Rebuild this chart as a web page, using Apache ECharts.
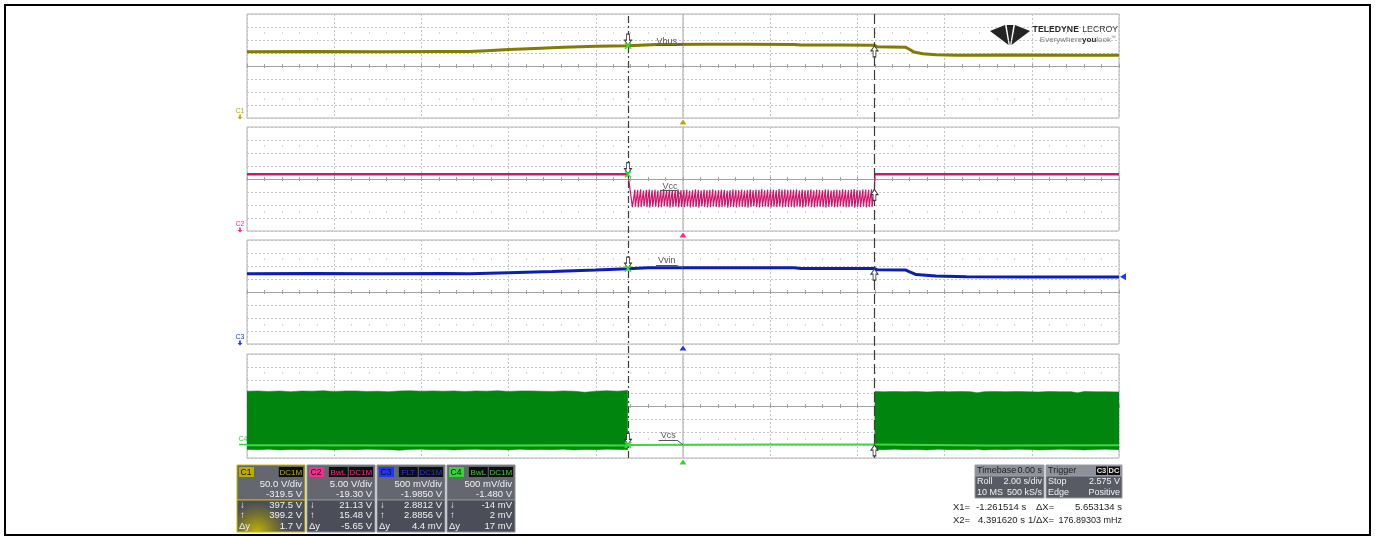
<!DOCTYPE html>
<html>
<head>
<meta charset="utf-8">
<title>Vbus / Vcc / Vvin / Vcs</title>
<script src="https://cdn.jsdelivr.net/npm/echarts@6/dist/echarts.min.js"></script>
<style>
  html, body { margin: 0; padding: 0; background: #fff; }
  #chart { position: absolute; left: 0; top: 0; width: 1375px; height: 536px; }
</style>
</head>
<body>
<div id="chart"></div>
<script>
// ---- timebase and cursors (seconds) ----
const timeMin = -10, timeMax = 10, timePerDiv = 2;
const cursorX1 = -1.261514, cursorX2 = 4.391620;

// ---- channel setup ----
const channelNames = ['C1', 'C2', 'C3', 'C4'];
const traceNames = ['Vbus', 'Vcc', 'Vvin', 'Vcs'];
const voltsPerDiv = [50, 5, 0.5, 0.5];
const channelOffsets = [-319.5, -19.30, -1.985, -1.480];
const cursorX1Values = [397.5, 21.13, 2.8812, -0.014];
const cursorX2Values = [399.2, 15.48, 2.8856, 0.002];
const triggerLevel = 2.575;

// ---- channel descriptor texts ----
const scaleTexts = ['50.0 V/div', '5.00 V/div', '500 mV/div', '500 mV/div'];
const offsetTexts = ['-319.5 V', '-19.30 V', '-1.9850 V', '-1.480 V'];
const x1Texts = ['397.5 V', '21.13 V', '2.8812 V', '-14 mV'];
const x2Texts = ['399.2 V', '15.48 V', '2.8856 V', '2 mV'];
const deltaTexts = ['1.7 V', '-5.65 V', '4.4 mV', '17 mV'];
const couplingBadges = [['DC1M'], ['BwL', 'DC1M'], ['FLT', 'DC1M'], ['BwL', 'DC1M']];

// ---- C1: Vbus (V) ----
const vbusTime  = [-10, -8.5, -7, -5.5, -4.9, -4.5, -4.0, -3.4, -2.75, -2.0, -1.261514, -0.6, 0.5, 1.5, 2.55, 2.7, 3.6, 4.39162, 4.45, 5.1, 5.2, 5.3, 5.5, 5.8, 6.3, 7.5, 9, 10];
const vbusVolts = [374.5, 375.2, 374.6, 375.0, 374.8, 378.5, 382.5, 387, 391.5, 395, 397.5, 402.5, 403, 402.8, 402.5, 400.5, 400, 399.2, 393.5, 392, 383, 373, 367, 363, 361, 361.5, 360.8, 361];

// ---- C2: Vcc (V) ----
const vccLeftTime = [-10, -7, -4, -1.261514];
const vccLeftVolts = [21.1, 21.15, 21.1, 21.13];
const vccRightTime = [4.40, 7, 10];
const vccRightVolts = [21.1, 21.12, 21.1];
// hiccup ripple between the cursors: slow charge from each valley to the next peak, fast collapse
const vccRippleStart = -1.16;
const vccRippleLow = [8.5, 8.7, 8.4, 8.6, 8.8, 8.5, 8.3, 8.6, 8.7, 8.4,
                      8.5, 8.8, 8.6, 8.3, 8.5, 8.7, 8.4, 8.6, 8.5, 8.8,
                      8.4, 8.6, 8.5, 8.3, 8.7, 8.6, 8.4, 8.5, 8.8, 8.6,
                      8.4, 8.5, 8.7, 8.3, 8.6, 8.5, 8.4, 8.7, 8.6, 8.5,
                      8.3, 8.6, 8.8, 8.5, 8.4, 8.6, 8.7, 8.5, 8.4, 8.6,
                      8.5, 8.7, 8.4, 8.6, 8.5, 8.6, 8.4, 8.7, 8.5, 8.3,
                      8.6, 8.8, 8.5, 8.4, 8.7, 8.6, 8.5, 8.3, 8.6, 8.7,
                      8.4, 8.5, 8.8, 8.6, 8.4, 8.5, 8.7, 8.3, 8.6, 8.5,
                      8.7, 8.4, 8.6, 8.6];
const vccRippleHigh = [15.2, 15.0, 15.3, 14.9, 15.1, 15.3, 15.0, 15.2, 14.9, 15.1,
                       15.4, 15.0, 15.2, 15.1, 14.9, 15.3, 15.0, 15.1, 15.2, 14.8,
                       15.0, 15.3, 15.1, 14.9, 15.2, 15.0, 15.1, 15.3, 14.9, 15.0,
                       15.2, 15.1, 14.8, 15.0, 15.3, 15.1, 15.0, 15.2, 14.9, 15.1,
                       15.3, 15.0, 15.2, 15.1, 15.4, 15.0, 15.2, 15.3, 15.1, 15.0,
                       15.4, 15.2, 15.3, 15.1, 15.2, 15.1, 15.3, 14.9, 15.2, 15.0,
                       15.1, 15.3, 14.9, 15.2, 15.1, 15.0, 15.3, 15.2, 14.9, 15.1,
                       15.2, 15.0, 15.3, 15.1, 15.0, 15.2, 15.4, 15.1, 15.0, 15.3,
                       15.2, 15.1, 15.3, 15.48];

// ---- C3: Vvin (V) ----
const vvinTime  = [-10, -8.5, -7, -5.5, -4.9, -4.0, -3.0, -2.0, -1.261514, -0.8, 0.5, 1.8, 2.55, 2.7, 3.6, 4.39162, 4.45, 5.1, 5.2, 5.35, 5.8, 6.5, 8, 10];
const vvinVolts = [2.69, 2.695, 2.69, 2.695, 2.69, 2.73, 2.775, 2.83, 2.8812, 2.915, 2.92, 2.918, 2.915, 2.89, 2.888, 2.8856, 2.845, 2.835, 2.76, 2.655, 2.6, 2.575, 2.565, 2.56];

// ---- C4: Vcs (V) ----
const vcsTime  = [-10, -6, -2, -1.27, -1.261514, -1.2, 0, 2, 4.39162, 4.40, 7, 10];
const vcsVolts = [-0.03, -0.04, -0.03, -0.04, -0.014, -0.02, -0.01, 0.0, 0.002, -0.03, -0.04, -0.03];
// switching envelope while the converter runs
const vcsLeftTime = [-10, -9.75, -9.5, -9.25, -9, -8.75, -8.5, -8.25, -8, -7.75, -7.5, -7.25, -7, -6.75, -6.5, -6.25, -6, -5.75,
                     -5.5, -5.25, -5, -4.75, -4.5, -4.25, -4, -3.75, -3.5, -3.25, -3, -2.75, -2.5, -2.25, -2, -1.75, -1.5, -1.27];
const vcsLeftHigh = [2.05, 2.06, 2.04, 2.06, 2.03, 2.06, 2.05, 2.07, 2.04, 2.06, 2.06, 2.04, 2.05, 2.03, 2.06, 2.07, 2.05, 2.06,
                     2.05, 2.06, 2.04, 2.06, 2.05, 2.07, 2.04, 2.06, 2.06, 2.05, 2.04, 2.06, 2.05, 2.01, 2.05, 2.07, 2.05, 2.08];
const vcsLeftLow = [-0.19, -0.2, -0.18, -0.21, -0.19, -0.2, -0.18, -0.19, -0.21, -0.19, -0.2, -0.18, -0.19, -0.2, -0.22, -0.19, -0.18, -0.2,
                    -0.19, -0.21, -0.19, -0.18, -0.2, -0.19, -0.21, -0.18, -0.2, -0.19, -0.2, -0.18, -0.21, -0.19, -0.2, -0.18, -0.19, -0.2];
const vcsRightTime = [4.40, 4.6, 4.85, 5.1, 5.35, 5.6, 5.85, 6.1, 6.35, 6.6, 6.75, 6.9, 7.15, 7.4, 7.65, 7.9, 8.15, 8.4, 8.65, 8.9, 9.05, 9.2, 9.45, 9.7, 10];
const vcsRightHigh = [2.04, 2.03, 2.04, 2.03, 2.04, 2.02, 2.04, 2.03, 2.04, 2.03, 1.99, 2.03, 2.04, 2.03, 2.04, 2.03, 2.02, 2.04, 2.03, 2.03, 1.99, 2.04, 2.03, 2.03, 2.02];
const vcsRightLow = [-0.19, -0.2, -0.18, -0.2, -0.19, -0.21, -0.18, -0.2, -0.19, -0.2, -0.18, -0.21, -0.19, -0.2, -0.18, -0.19, -0.21, -0.2, -0.18, -0.19, -0.2, -0.21, -0.19, -0.18, -0.2];

// ---------------------------------------------------------------------------
const FONT = '"Liberation Sans", Arial, sans-serif';
const W = 1375, H = 536;
const LAYOUT = { left: 247, right: 256, tops: [14, 127, 240, 354], height: 104 };
const traceColors = ['#817c00', '#d2156c', '#0c1fb2', '#00860f'];
const markerColors = ['#b9ad00', '#ff2a8c', '#2236ee', '#35d335'];
const vcsLineColor = '#3ed83e';

const zip = (a, b) => a.map((t, k) => [t, b[k]]);

// Vcc ripple: each cycle charges from a valley to a peak, then collapses to the next valley
const vccRipple = [[vccLeftTime[vccLeftTime.length - 1], vccLeftVolts[vccLeftVolts.length - 1]]];
const collapse = 0.01;
const ripplePeriod = (cursorX2 + collapse - vccRippleStart) / vccRippleLow.length;
vccRippleLow.forEach((lo, k) => {
  vccRipple.push([vccRippleStart + k * ripplePeriod, lo]);
  vccRipple.push([vccRippleStart + (k + 1) * ripplePeriod - collapse, vccRippleHigh[k]]);
});
vccRipple.push([vccRightTime[0], vccRightVolts[0]]);

const ARROW = 'path://M3,0 L7,0 L7,7 L10,7 L5,13 L0,7 L3,7 Z';
const CROSS = 'path://M0,0 L10,10 M10,0 L0,10';
const TAG_ARROW = 'path://M2,0 L4,0 L4,3 L6,3 L3,6 L0,3 L2,3 Z';

// grids: four panels plus one transparent overlay for the cursors
const grids = LAYOUT.tops.map(top => ({
  left: LAYOUT.left, right: LAYOUT.right, top, height: LAYOUT.height,
  show: true, backgroundColor: '#ffffff', borderColor: '#b2b2b2', borderWidth: 1,
  containLabel: false
}));
grids.push({ left: LAYOUT.left, right: LAYOUT.right, top: LAYOUT.tops[0],
  bottom: H - (LAYOUT.tops[3] + LAYOUT.height), show: false, containLabel: false });

const xAxes = [], yAxes = [];
const gridGray = '#c4c4c4', axisGray = '#a2a2a2';
for (let i = 0; i < 4; i++) {
  const base = { gridIndex: i, type: 'value', min: timeMin, max: timeMax, interval: timePerDiv,
    axisLabel: { show: false } };
  // centre horizontal line with cross ticks
  xAxes.push(Object.assign({}, base, { position: 'bottom',
    axisLine: { show: true, onZero: true, onZeroAxisIndex: 2 * i, lineStyle: { color: axisGray, width: 1 } },
    axisTick: { show: true, length: 2, lineStyle: { color: axisGray } },
    minorTick: { show: true, splitNumber: 5, length: 2, lineStyle: { color: axisGray } },
    splitLine: { show: true, lineStyle: { color: gridGray, type: [2, 2], width: 1 } } }));
  xAxes.push(Object.assign({}, base, { position: 'bottom',
    axisLine: { show: false, onZero: true, onZeroAxisIndex: 2 * i },
    axisTick: { show: true, inside: true, length: 2, lineStyle: { color: axisGray } },
    minorTick: { show: true, splitNumber: 5, length: 2, lineStyle: { color: axisGray } },
    splitLine: { show: false } }));
  // dotted rows at +/-2.5 div
  const dotRow = pos => Object.assign({}, base, { position: pos, offset: -1.5 * LAYOUT.height / 8,
    axisLine: { show: false, onZero: false }, axisTick: { show: false },
    minorTick: { show: true, splitNumber: 5, length: 1, lineStyle: { color: '#aaaaaa', width: 1 } },
    splitLine: { show: false } });
  xAxes.push(dotRow('top'));
  xAxes.push(dotRow('bottom'));

  // graticule axis in divisions (draws the horizontal grid and the trigger-time line)
  yAxes.push({ gridIndex: i, type: 'value', min: -4, max: 4, interval: 1,
    axisLabel: { show: false }, axisTick: { show: false },
    axisLine: { show: true, onZero: true, onZeroAxisIndex: 4 * i, lineStyle: { color: '#c0c0c0', width: 1.5 } },
    splitLine: { show: true, lineStyle: { color: gridGray, type: [2, 2], width: 1 } } });
  // channel axis in volts
  const centre = -channelOffsets[i];
  yAxes.push({ gridIndex: i, type: 'value', show: false,
    min: centre - 4 * voltsPerDiv[i], max: centre + 4 * voltsPerDiv[i], splitLine: { show: false } });
}
xAxes.push({ gridIndex: 4, type: 'value', min: timeMin, max: timeMax, show: false });
yAxes.push({ gridIndex: 4, type: 'value', min: 0, max: 1, show: false });

// trace annotations (data coordinates): name text, underline and leader to the trace
const traceLabels = [
  { at: [-0.37, 413.7], under: [-0.62, -0.14, 400.6], tip: [0, 403] },
  { at: [-0.30, 16.45], under: [-0.52, -0.14, 14.9], tip: [0, 12.3] },
  { at: [-0.37, 3.215], under: [-0.62, -0.14, 3.0], tip: [0, 2.92] },
  { at: [-0.34, 0.345], under: [-0.56, -0.14, 0.17], tip: [0, -0.01] }
];

function markersFor(i) {
  const centre = -channelOffsets[i];
  const vmin = centre - 4 * voltsPerDiv[i];
  const lab = traceLabels[i];
  const points = [
    { coord: lab.at, symbol: 'rect', symbolSize: 1, itemStyle: { color: 'rgba(0,0,0,0)' },
      label: { show: true, position: 'inside', formatter: traceNames[i], color: '#575757', fontSize: 9, fontFamily: FONT } },
    { coord: [cursorX1, cursorX1Values[i]], symbol: ARROW, symbolSize: [7, 11], symbolOffset: [0, -6],
      itemStyle: { color: '#ffffff', borderColor: '#3a3a3a', borderWidth: 1 }, label: { show: false } },
    { coord: [cursorX1, cursorX1Values[i]], symbol: CROSS, symbolSize: 6,
      itemStyle: { color: 'rgba(0,0,0,0)', borderColor: '#2ee62e', borderWidth: 1.6 }, label: { show: false } },
    { coord: [cursorX2, cursorX2Values[i]], symbol: ARROW, symbolSize: [7, 11], symbolRotate: 180, symbolOffset: [0, 6],
      itemStyle: { color: '#ffffff', borderColor: '#3a3a3a', borderWidth: 1 }, label: { show: false } },
    { coord: [0, vmin], symbol: 'triangle', symbolSize: [7, 5], symbolOffset: [0, 4],
      itemStyle: { color: markerColors[i] }, label: { show: false } }
  ];
  if (i === 3) {
    points.push({ coord: [timeMin, 0], symbol: 'rect', symbolSize: [8, 1.5], symbolOffset: [-4, 0],
      itemStyle: { color: markerColors[i] },
      label: { show: true, position: 'top', distance: 1, formatter: channelNames[i], color: markerColors[i], fontSize: 7, fontFamily: FONT } });
  } else {
    points.push({ coord: [timeMin, vmin], symbol: TAG_ARROW, symbolSize: [5, 5], symbolOffset: [-7, -1],
      itemStyle: { color: markerColors[i] },
      label: { show: true, position: 'top', distance: 0, formatter: channelNames[i], color: markerColors[i], fontSize: 7, fontFamily: FONT } });
  }
  if (i === 2) {
    points.push({ coord: [timeMax, triggerLevel], symbol: 'triangle', symbolSize: [7, 6], symbolRotate: 90,
      symbolOffset: [4, 0], itemStyle: { color: markerColors[i] }, label: { show: false } });
  }
  return {
    markPoint: { silent: true, animation: false, data: points },
    markLine: { silent: true, animation: false, symbol: ['none', 'none'], label: { show: false },
      lineStyle: { color: '#555555', width: 1, type: 'solid' },
      data: [
        [{ coord: [lab.under[0], lab.under[2]] }, { coord: [lab.under[1], lab.under[2]] }],
        [{ coord: [lab.under[1], lab.under[2]] }, { coord: lab.tip }]
      ] }
  };
}

function trace(i, name, data, color, width, withMarkers) {
  const s = { type: 'line', name, xAxisIndex: 4 * i, yAxisIndex: 2 * i + 1, data,
    symbol: 'none', showSymbol: false, clip: true, z: 3, animation: false,
    lineStyle: { color, width }, itemStyle: { color } };
  return withMarkers ? Object.assign(s, markersFor(i)) : s;
}

const vcsBands = [
  { t: vcsLeftTime, hi: vcsLeftHigh, lo: vcsLeftLow },
  { t: vcsRightTime, hi: vcsRightHigh, lo: vcsRightLow }
];

const series = [
  // cursor lines across all four panels
  { type: 'line', xAxisIndex: 16, yAxisIndex: 8, data: [[timeMin, 0], [timeMax, 0]], symbol: 'none',
    lineStyle: { opacity: 0, width: 0 }, z: 1, silent: true, animation: false,
    markLine: { silent: true, animation: false, symbol: ['none', 'none'], label: { show: false },
      data: [
        { xAxis: cursorX1, lineStyle: { color: '#3c3c3c', width: 1.2, type: [7, 3, 2, 3] } },
        { xAxis: cursorX2, lineStyle: { color: '#3c3c3c', width: 1.2, type: [10, 4] } }
      ] } },
  trace(0, 'Vbus', zip(vbusTime, vbusVolts), traceColors[0], 3, true),
  trace(1, 'Vcc', zip(vccLeftTime, vccLeftVolts), traceColors[1], 2.5, true),
  trace(1, 'Vcc ripple', vccRipple, traceColors[1], 1.2, false),
  trace(1, 'Vcc after', zip(vccRightTime, vccRightVolts), traceColors[1], 2.5, false),
  trace(2, 'Vvin', zip(vvinTime, vvinVolts), traceColors[2], 3, true),
  { type: 'custom', name: 'Vcs switching', xAxisIndex: 12, yAxisIndex: 7, data: [[0, 0]], z: 2,
    silent: true, animation: false, clip: true,
    renderItem: function (params, api) {
      return { type: 'group', children: vcsBands.map(b => ({
        type: 'polygon',
        shape: { points: b.t.map((t, k) => api.coord([t, b.hi[k]]))
          .concat(b.t.slice().reverse().map((t, k) => api.coord([t, b.lo[b.lo.length - 1 - k]]))) },
        style: { fill: traceColors[3], stroke: traceColors[3], lineWidth: 0.5 }
      })) };
    } },
  trace(3, 'Vcs', zip(vcsTime, vcsVolts), vcsLineColor, 2, true)
];

// ---- screen furniture: frame, logo, descriptor boxes, timebase and cursor readouts ----
const graphics = [];
function text(x, y, str, fill, size, align, weight) {
  graphics.push({ type: 'text', x, y, silent: true, z: 10, style: {
    text: str, fill, font: (weight || 'normal') + ' ' + size + 'px ' + FONT,
    align: align || 'left', verticalAlign: 'middle', textAlign: align || 'left', textVerticalAlign: 'middle' } });
}
function rect(x, y, w, h, fill, stroke) {
  graphics.push({ type: 'rect', silent: true, z: 9, shape: { x, y, width: w, height: h },
    style: { fill, stroke: stroke || null, lineWidth: stroke ? 1 : 0 } });
}

graphics.push({ type: 'rect', silent: true, z: 20, shape: { x: 5, y: 5, width: 1365, height: 530 },
  style: { fill: null, stroke: '#000000', lineWidth: 2 } });

// logo
const logoInk = '#242424';
graphics.push({ type: 'polygon', silent: true, z: 10, shape: { points: [[990, 31], [1005, 25], [1008.6, 45]] }, style: { fill: logoInk } });
graphics.push({ type: 'polygon', silent: true, z: 10, shape: { points: [[1030, 31], [1015, 25], [1011.4, 45]] }, style: { fill: logoInk } });
graphics.push({ type: 'polygon', silent: true, z: 10, shape: { points: [[1006.6, 25], [1013.4, 25], [1010, 46]] }, style: { fill: logoInk } });
graphics.push({ type: 'text', x: 1118, y: 30, silent: true, z: 10, style: {
  text: '{b|TELEDYNE} {n|LECROY}', align: 'right', verticalAlign: 'middle', textAlign: 'right', textVerticalAlign: 'middle',
  rich: { b: { font: 'bold 8.7px ' + FONT, fill: '#2a2a2a', color: '#2a2a2a' },
          n: { font: 'normal 8.7px ' + FONT, fill: '#3a3a3a', color: '#3a3a3a' } } } });
graphics.push({ type: 'text', x: 1116, y: 39.5, silent: true, z: 10, style: {
  text: '{n|Everywhere}{b|you}{n|look}{s|™}', align: 'right', verticalAlign: 'middle', textAlign: 'right', textVerticalAlign: 'middle',
  rich: { n: { font: 'normal 8px ' + FONT, fill: '#7a7a7a', color: '#7a7a7a' },
          b: { font: 'bold 8px ' + FONT, fill: '#2a2a2a', color: '#2a2a2a' },
          s: { font: 'normal 5px ' + FONT, fill: '#7a7a7a', color: '#7a7a7a', verticalAlign: 'top' } } } });

// channel descriptor boxes
const boxText = '#f2f2f2';
for (let i = 0; i < 4; i++) {
  const x = 237 + 70 * i, y = 465, w = 68;
  rect(x, y, w, 35, '#64676f', i === 0 ? '#c8bb00' : '#8b8e95');
  if (i === 0) {
    graphics.push({ type: 'rect', silent: true, z: 9, shape: { x, y: y + 35, width: w, height: 32 },
      style: { stroke: '#c8bb00', lineWidth: 1, fill: { type: 'radial', x: 0.3, y: 1, r: 0.9,
        colorStops: [{ offset: 0, color: '#c2b800' }, { offset: 0.55, color: '#7b772c' }, { offset: 1, color: '#4c4f58' }] } } });
  } else {
    rect(x, y + 35, w, 32, '#4b4e58', '#8b8e95');
  }
  rect(x + 2, y + 2, 15, 10, markerColors[i]);
  text(x + 3.5, y + 7.5, channelNames[i], '#101010', 8.5, 'left', 'normal');
  let bx = x + w - 2;
  couplingBadges[i].slice().reverse().forEach(b => {
    const bw = b.length * 5.3 + 3;
    bx -= bw;
    rect(bx, y + 2, bw, 10, '#0e0e0e');
    text(bx + bw / 2, y + 7.5, b, markerColors[i], 8, 'center', 'normal');
    bx -= 1;
  });
  text(x + w - 3, 484.5, scaleTexts[i], boxText, 9.5, 'right');
  text(x + w - 3, 494.5, offsetTexts[i], boxText, 9.5, 'right');
  text(x + 3, 505.5, '\u2193', boxText, 9.5, 'left');
  text(x + w - 3, 505.5, x1Texts[i], boxText, 9.5, 'right');
  text(x + 3, 515.5, '\u2191', boxText, 9.5, 'left');
  text(x + w - 3, 515.5, x2Texts[i], boxText, 9.5, 'right');
  text(x + 2, 526, '\u0394y', boxText, 9.5, 'left');
  text(x + w - 3, 526, deltaTexts[i], boxText, 9.5, 'right');
}

// timebase and trigger boxes
rect(975, 465, 69, 11, '#8e9199', '#9a9ca3');
rect(975, 476, 69, 22, '#585b64', '#9a9ca3');
text(977, 470.5, 'Timebase', '#1e1e1e', 9);
text(1042, 470.5, '0.00 s', '#1e1e1e', 9, 'right');
text(977, 481.5, 'Roll', boxText, 9);
text(1042, 481.5, '2.00 s/div', boxText, 9, 'right');
text(977, 492.5, '10 MS', boxText, 9);
text(1042, 492.5, '500 kS/s', boxText, 9, 'right');

rect(1046, 465, 76, 11, '#8e9199', '#9a9ca3');
rect(1046, 476, 76, 22, '#585b64', '#9a9ca3');
text(1048, 470.5, 'Trigger', '#1e1e1e', 9);
rect(1096, 466.5, 11, 8.5, '#0e0e0e');
text(1101.5, 470.8, 'C3', '#e8e8e8', 7.5, 'center', 'bold');
rect(1108, 466.5, 12, 8.5, '#0e0e0e');
text(1114, 470.8, 'DC', '#e8e8e8', 7.5, 'center', 'bold');
text(1048, 481.5, 'Stop', boxText, 9);
text(1120, 481.5, '2.575 V', boxText, 9, 'right');
text(1048, 492.5, 'Edge', boxText, 9);
text(1120, 492.5, 'Positive', boxText, 9, 'right');

// cursor readouts
const readout = '#222222';
text(953, 507.5, 'X1=', readout, 9.5);
text(976, 507.5, '-1.261514 s', readout, 9.5);
text(1036, 507.5, '\u0394X=', readout, 9.5);
text(1122, 507.5, '5.653134 s', readout, 9.5, 'right');
text(953, 520.5, 'X2=', readout, 9.5);
text(1025, 520.5, '4.391620 s', readout, 9.5, 'right');
text(1028, 520.5, '1/\u0394X=', readout, 9.5);
text(1122, 520.5, '176.89303 mHz', readout, 9, 'right');

const chart = echarts.init(document.getElementById('chart'), null, { renderer: 'canvas', width: W, height: H });
chart.setOption({
  animation: false,
  backgroundColor: '#ffffff',
  textStyle: { fontFamily: FONT },
  grid: grids,
  xAxis: xAxes,
  yAxis: yAxes,
  series,
  graphic: graphics
});
</script>
</body>
</html>
